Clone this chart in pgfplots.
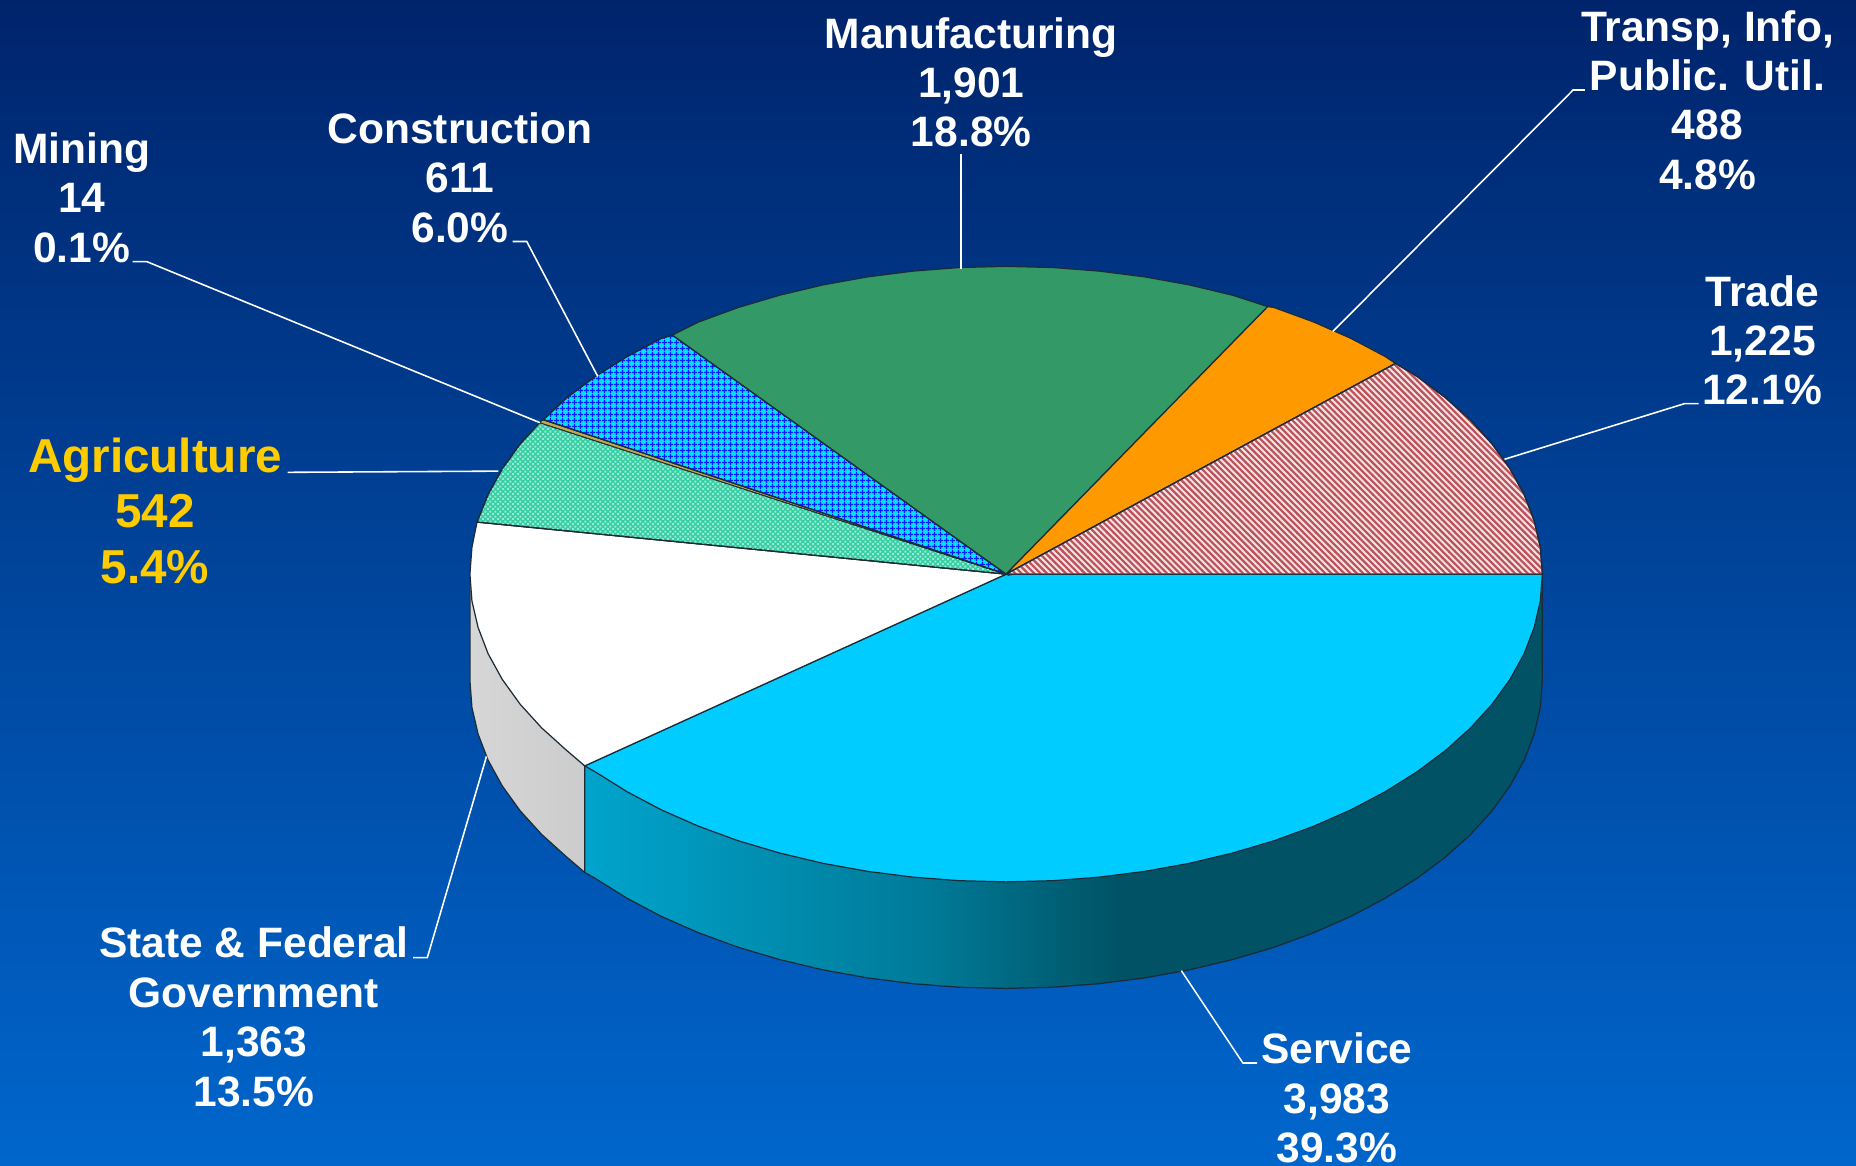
\documentclass[border=0pt]{standalone}
\usepackage{fontspec}
\setmainfont{Liberation Sans}
\usepackage{pgfplots}
\pgfplotsset{compat=1.18}
\usetikzlibrary{patterns}

\definecolor{edge}{HTML}{1C2B38}
\definecolor{bgtop}{HTML}{00246C}
\definecolor{bgbot}{HTML}{0066CC}
\definecolor{lab}{HTML}{FFCC00}
\definecolor{serviceA}{HTML}{00A4CC}
\definecolor{serviceB}{HTML}{007A98}
\definecolor{serviceC}{HTML}{005264}

\tikzset{
    slice/.style={draw=edge, line width=0.35pt},
    leader/.style={draw=white, line width=0.45pt},
    lbl/.style={text=white, align=center, font=\fontsize{12.1}{14.05}\selectfont\bfseries}
}

% hatch fills
\pgfdeclarepatternformonly{tradehatch}{\pgfqpoint{-0.2pt}{-0.2pt}}{\pgfqpoint{2pt}{2pt}}{\pgfqpoint{1.8pt}{1.8pt}}{
  \pgfsetlinewidth{0.62pt}
  \pgfpathmoveto{\pgfqpoint{-0.2pt}{2pt}}
  \pgfpathlineto{\pgfqpoint{2pt}{-0.2pt}}
  \pgfusepath{stroke}
}
\pgfdeclarepatternformonly{constrgrid}{\pgfqpoint{0pt}{0pt}}{\pgfqpoint{1.56pt}{1.56pt}}{\pgfqpoint{1.56pt}{1.56pt}}{
  \pgfsetlinewidth{0.42pt}
  \pgfpathmoveto{\pgfqpoint{0.78pt}{0pt}}
  \pgfpathlineto{\pgfqpoint{0.78pt}{1.56pt}}
  \pgfpathmoveto{\pgfqpoint{0pt}{0.78pt}}
  \pgfpathlineto{\pgfqpoint{1.56pt}{0.78pt}}
  \pgfusepath{stroke}
}
\pgfdeclarepatternformonly{agridots}{\pgfqpoint{0pt}{0pt}}{\pgfqpoint{1.4pt}{1.4pt}}{\pgfqpoint{1.4pt}{1.4pt}}{
  \pgfpathrectangle{\pgfqpoint{0pt}{0pt}}{\pgfqpoint{0.55pt}{0.55pt}}
  \pgfpathrectangle{\pgfqpoint{0.7pt}{0.7pt}}{\pgfqpoint{0.55pt}{0.55pt}}
  \pgfusepath{fill}
}

% side wall runs light to dark, then stays dark
\pgfdeclarehorizontalshading{servicewall}{100bp}{
  color(0bp)=(serviceA);
  color(25bp)=(serviceA);
  color(43bp)=(serviceB);
  color(53bp)=(serviceC);
  color(100bp)=(serviceC)
}

\begin{document}
\begin{tikzpicture}
\useasboundingbox (0,0) rectangle (18.56cm,11.65cm);
\begin{axis}[
    scale only axis,
    width=18.56cm,
    height=11.65cm,
    xmin=0, xmax=1568,
    ymin=0, ymax=984.2,
    y dir=reverse,
    hide axis,
    clip=true
]
% background
\addplot[top color=bgtop, bottom color=bgbot, draw=none] coordinates {
    (0,0) (1568,0) (1568,984.2) (0,984.2)
} -- cycle;

% side walls
\addplot[slice, left color=black!16, right color=black!20] coordinates {
    (397,485) (494,647) (494,737) (478.9,724.1) (457.7,705) (439.4,684.9)
    (424.3,663.9) (412.4,642.3) (403.9,620.1) (398.7,597.7) (397,575)
} -- cycle;
\addplot[slice, shading=servicewall] coordinates {
    (494,647) (494,737) (503,742.1) (529.7,758.8) (558.8,774.2) (590.2,788) (623.5,800.2)
    (658.6,810.6) (695.1,819.3) (732.8,826.1) (771.4,831) (810.5,834) (850,835)
    (889.5,834) (928.6,831) (967.2,826.1) (1004.9,819.3) (1041.4,810.6) (1076.5,800.2)
    (1109.8,788) (1141.2,774.2) (1170.3,758.8) (1197,742.1) (1221.1,724.1) (1242.3,705)
    (1260.6,684.9) (1275.7,663.9) (1287.6,642.3) (1296.1,620.1) (1301.3,597.7)
    (1303,575) (1303,485)
} -- cycle;

% Service 3,983
\addplot[slice, fill={rgb,255:red,0;green,204;blue,255}] coordinates {
    (850,485) (1303,485) (1301.3,507.7) (1296.1,530.1) (1287.6,552.3) (1275.7,573.9)
    (1260.6,594.9) (1242.3,615) (1221.1,634.1) (1197,652.1) (1170.3,668.8) (1141.2,684.2)
    (1109.8,698) (1076.5,710.2) (1041.4,720.6) (1004.9,729.3) (967.2,736.1) (928.6,741)
    (889.5,744) (850,745) (810.5,744) (771.4,741) (732.8,736.1) (695.1,729.3) (658.6,720.6)
    (623.5,710.2) (590.2,698) (558.8,684.2) (529.7,668.8) (503,652.1) (494,647)
} -- cycle;
% State & Federal Government 1,363
\addplot[slice, fill=white] coordinates {
    (850,485) (494,647) (478.9,634.1) (457.7,615) (439.4,594.9) (424.3,573.9) (412.4,552.3)
    (403.9,530.1) (398.7,507.7) (397,485) (398.7,462.3) (403,441)
} -- cycle;
% Agriculture 542
\addplot[slice, preaction={fill={rgb,255:red,56;green,206;blue,164}}, pattern=agridots, pattern color={rgb,255:red,150;green,236;blue,212}] coordinates {
    (850,485) (403,441) (412.4,417.7) (424.3,396.1) (439.4,375.1) (456,357)
} -- cycle;
% Mining 14
\addplot[draw=edge, line width=0.2pt, fill={rgb,255:red,190;green,170;blue,80}] coordinates {
    (850,485) (456,357) (459,354.5)
} -- cycle;
% Construction 611
\addplot[slice, preaction={fill={rgb,255:red,0;green,226;blue,255}}, pattern=constrgrid, pattern color={rgb,255:red,0;green,30;blue,255}] coordinates {
    (850,485) (459,354.5) (478.9,335.9) (503,317.9) (529.7,301.2) (558.8,285.8) (568,283)
} -- cycle;
% Manufacturing 1,901
\addplot[slice, fill={rgb,255:red,51;green,153;blue,102}] coordinates {
    (850,485) (568,283) (590.2,272) (623.5,259.8) (658.6,249.4) (695.1,240.7) (732.8,233.9)
    (771.4,229) (810.5,226) (850,225) (889.5,226) (928.6,229) (967.2,233.9) (1004.9,240.7)
    (1041.4,249.4) (1071,259)
} -- cycle;
% Transp, Info, Public. Util. 488
\addplot[slice, fill={rgb,255:red,255;green,153;blue,0}] coordinates {
    (850,485) (1071,259) (1076.5,259.8) (1109.8,272) (1141.2,285.8) (1170.3,301.2) (1179,307)
} -- cycle;
% Trade 1,225
\addplot[slice, preaction={fill={rgb,255:red,246;green,226;blue,226}}, pattern=tradehatch, pattern color={rgb,255:red,185;green,84;blue,92}] coordinates {
    (850,485) (1179,307) (1197,317.9) (1221.1,335.9) (1242.3,355) (1260.6,375.1) (1275.7,396.1)
    (1287.6,417.7) (1296.1,439.9) (1301.3,462.3) (1303,485)
} -- cycle;

% leader lines
\addplot[leader] coordinates {(112,221) (124,221) (456,357)};
\addplot[leader] coordinates {(433,204) (445,204) (505,318)};
\addplot[leader] coordinates {(812,130) (812,227)};
\addplot[leader] coordinates {(1339,76) (1329,76) (1126,280)};
\addplot[leader] coordinates {(1435,341) (1423,341) (1271,388)};
\addplot[leader] coordinates {(243,399) (421,398)};
\addplot[leader] coordinates {(349,809) (361,809) (411,639)};
\addplot[leader] coordinates {(1062,898) (1050,898) (998,820)};

% labels
\node[lbl] at (820.5,69.5) {Manufacturing\\1,901\\18.8\%};
\node[lbl] at (1442.5,84.5) {Transp, Info,\\Public. Util.\\488\\4.8\%};
\node[lbl] at (1489,287.5) {Trade\\1,225\\12.1\%};
\node[lbl] at (1129.5,927.5) {Service\\3,983\\39.3\%};
\node[lbl] at (388.5,150) {Construction\\611\\6.0\%};
\node[lbl] at (69,167) {Mining\\14\\0.1\%};
\node[lbl] at (214.5,859) {State \& Federal\\Government\\1,363\\13.5\%};
\node[lbl, text=lab, font=\fontsize{13.55}{15.8}\selectfont\bfseries] at (131,431.5) {Agriculture\\542\\5.4\%};
\end{axis}
\end{tikzpicture}
\end{document}
